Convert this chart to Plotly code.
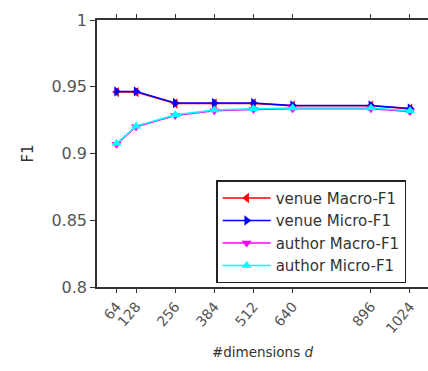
import plotly.graph_objects as go

dims = [64, 128, 256, 384, 512, 640, 896, 1024]
venue_macro = [0.946, 0.946, 0.9375, 0.9375, 0.9375, 0.9358, 0.9358, 0.9335]
venue_micro = [0.9465, 0.9465, 0.9378, 0.9378, 0.9378, 0.936, 0.936, 0.9338]
author_macro = [0.907, 0.920, 0.9285, 0.932, 0.933, 0.9335, 0.9335, 0.9315]
author_micro = [0.9075, 0.9205, 0.929, 0.9325, 0.9335, 0.934, 0.934, 0.932]
names = ["venue Macro-F1", "venue Micro-F1", "author Macro-F1", "author Micro-F1"]
colors = ["#ff0000", "#0000ff", "#ff00ff", "#00ffff"]
symbols = ["triangle-left", "triangle-right", "triangle-down", "triangle-up"]
series = [venue_macro, venue_micro, author_macro, author_micro]
yticks = [0.8, 0.85, 0.9, 0.95, 1]
yticktext = ["0.8", "0.85", "0.9", "0.95", "1"]

FONT = "DejaVu Sans, Arial"

fig = go.Figure()
for name, vals, c, s in zip(names, series, colors, symbols):
    fig.add_trace(go.Scatter(
        x=dims, y=vals, name=name, mode="lines+markers",
        line=dict(color=c, width=1.5),
        marker=dict(symbol=s, size=9, color=c),
    ))

fig.update_layout(
    width=428, height=371,
    margin=dict(l=97, r=0, t=20, b=84),
    paper_bgcolor="white", plot_bgcolor="white",
    font=dict(family=FONT, size=15, color="#333"),
    showlegend=True,
    legend=dict(
        x=0.36, y=0.40, xanchor="left", yanchor="top",
        bordercolor="#222", borderwidth=1.5, bgcolor="white",
        font=dict(family=FONT, size=15, color="#333"),
        tracegroupgap=0, itemwidth=48,
    ),
)
fig.update_xaxes(
    range=[0, 1083], tickvals=dims, ticktext=[str(d) for d in dims],
    tickangle=-50, ticks="outside", ticklen=4, tickcolor="#333",
    showline=True, linecolor="#333", linewidth=1.5, mirror="ticks",
    showgrid=False, zeroline=False,
    tickfont=dict(family=FONT, size=14, color="#555"),
    title=dict(text="#dimensions <i>d</i>", font=dict(family=FONT, size=13.5, color="#333"), standoff=12),
)
fig.update_yaxes(
    range=[0.8, 1], tickvals=yticks, ticktext=yticktext,
    ticks="outside", ticklen=5, tickcolor="#333",
    showline=True, linecolor="#333", linewidth=1.5,
    showgrid=False, zeroline=False,
    tickfont=dict(family=FONT, size=16, color="#555"),
    title=dict(text="F1", font=dict(family=FONT, size=15, color="#333"), standoff=14),
)

fig.write_html("out.html")
